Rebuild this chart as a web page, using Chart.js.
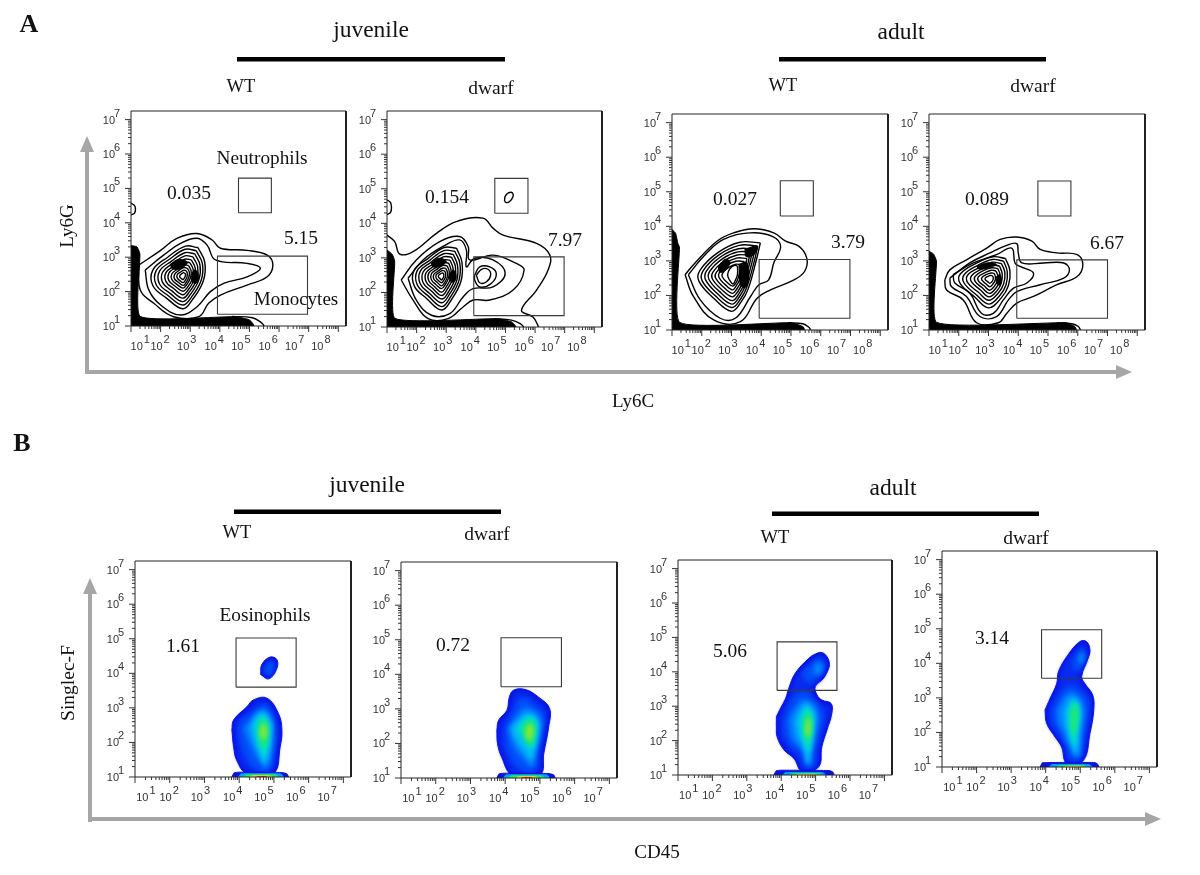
<!DOCTYPE html>
<html>
<head>
<meta charset="utf-8">
<title>Ly6G / Ly6C and Singlec-F / CD45 flow plots</title>
<script src="https://cdn.jsdelivr.net/npm/chart.js@4/dist/chart.umd.js"></script>
<style>
  html, body { margin: 0; background: #fff; }
  #page { position: relative; width: 1200px; height: 875px; overflow: hidden; filter: blur(0.3px); }
  #page canvas { position: absolute; }
  #page svg { position: absolute; left: 0; top: 0; }
  .t { position: absolute; font-family: "Liberation Serif", serif; color: #111; white-space: nowrap; transform: translate(-50%, -50%); line-height: 1; }
</style>
</head>
<body>
<div id="page"></div>
<script>
// all values below are log10 decades, as flat x,y lists
const xDecadesA = [1, 2, 3, 4, 5, 6, 7, 8];
const xDecadesB = [1, 2, 3, 4, 5, 6, 7];
const yDecades = [1, 2, 3, 4, 5, 6, 7];
const xLabelPos = [1.33, 2.0, 2.9, 3.83, 4.73, 5.65, 6.55, 7.43];

const neutGates = [[4.63, 5.74, 4.29, 5.30], [4.64, 5.76, 4.29, 5.30], [4.64, 5.75, 4.30, 5.32], [4.66, 5.77, 4.30, 5.31]];
const monoGates = [[3.92, 6.96, 1.34, 3.03], [3.93, 6.98, 1.33, 3.03], [3.93, 6.98, 1.34, 3.04], [3.95, 7.0, 1.34, 3.03]];
const eosGates = [[3.91, 5.64, 3.60, 5.02], [3.88, 5.62, 3.64, 5.06], [3.88, 5.62, 3.46, 4.87], [3.88, 5.62, 3.57, 4.97]];

// panel A contours, closed, outermost first
const a1Contours = [
  [1.26,2.77, 2.0,3.2, 2.55,3.55, 3.23,3.69, 3.74,3.5, 4.02,3.26, 4.92,3.2, 5.6,3.06, 5.79,2.77, 5.6,2.43, 4.92,2.19, 4.02,1.9, 3.62,1.66, 3.29,1.27, 2.44,1.27, 1.77,1.66, 1.32,2.03],
  [1.48,2.63, 2.1,3.06, 2.67,3.4, 3.23,3.55, 3.57,3.35, 3.85,2.92, 4.92,2.82, 5.37,2.68, 4.92,2.43, 4.13,2.24, 3.68,2.0, 3.23,1.56, 2.67,1.32, 2.0,1.61, 1.6,2.05],
  [3.26,3.28, 3.49,2.86, 3.44,2.31, 3.07,1.76, 2.75,1.50, 2.20,1.81, 1.74,2.17, 1.74,2.63, 2.24,3.00, 2.84,3.32],
  [3.20,3.19, 3.41,2.82, 3.37,2.33, 3.04,1.84, 2.75,1.61, 2.26,1.88, 1.85,2.20, 1.85,2.61, 2.30,2.94, 2.83,3.23],
  [3.15,3.10, 3.33,2.77, 3.29,2.34, 3.00,1.91, 2.75,1.71, 2.32,1.95, 1.96,2.23, 1.96,2.59, 2.36,2.88, 2.82,3.13],
  [3.09,3.01, 3.25,2.73, 3.22,2.36, 2.97,1.99, 2.75,1.81, 2.38,2.02, 2.07,2.26, 2.07,2.57, 2.41,2.82, 2.82,3.04],
  [3.04,2.92, 3.17,2.68, 3.14,2.37, 2.94,2.06, 2.75,1.91, 2.44,2.09, 2.18,2.29, 2.18,2.55, 2.47,2.76, 2.81,2.94],
  [2.99,2.84, 3.10,2.64, 3.08,2.39, 2.91,2.13, 2.76,2.01, 2.50,2.15, 2.28,2.32, 2.28,2.54, 2.52,2.71, 2.80,2.86],
  [2.94,2.76, 3.03,2.60, 3.01,2.40, 2.88,2.20, 2.76,2.10, 2.55,2.21, 2.38,2.35, 2.38,2.52, 2.57,2.65, 2.79,2.77],
  [2.90,2.68, 2.97,2.57, 2.95,2.41, 2.85,2.25, 2.76,2.18, 2.60,2.27, 2.47,2.37, 2.47,2.50, 2.61,2.61, 2.78,2.70],
  [2.86,2.61, 2.90,2.53, 2.89,2.42, 2.82,2.31, 2.76,2.26, 2.65,2.32, 2.56,2.40, 2.56,2.49, 2.66,2.56, 2.78,2.62],
  [2.81,2.54, 2.84,2.50, 2.83,2.44, 2.79,2.38, 2.76,2.35, 2.70,2.38, 2.65,2.42, 2.65,2.47, 2.70,2.51, 2.77,2.55]
];
const a2Contours = [
  [1.48,2.36, 1.99,2.94, 2.78,3.47, 3.45,3.62, 3.74,3.33, 3.79,2.94, 4.58,3.08, 5.37,2.84, 5.63,2.65, 5.26,2.07, 4.47,1.78, 3.91,1.78, 3.57,1.58, 3.06,1.24, 2.39,1.24, 1.88,1.78],
  [1.71,2.41, 2.22,2.94, 2.89,3.33, 3.45,3.52, 3.68,3.23, 3.68,2.74, 3.96,2.99, 4.58,2.94, 4.99,2.55, 4.58,2.16, 3.91,2.11, 3.57,1.87, 3.12,1.39, 2.5,1.34, 1.99,1.78],
  [3.96,2.5, 4.13,2.74, 4.47,2.74, 4.69,2.55, 4.52,2.26, 4.13,2.16, 3.96,2.36],
  [4.02,2.5, 4.19,2.67, 4.41,2.67, 4.5,2.5, 4.36,2.31, 4.13,2.28],
  [4.97,4.64, 4.99,4.78, 5.1,4.88, 5.24,4.88, 5.25,4.76, 5.14,4.63, 5.03,4.6],
  [3.35,3.28, 3.53,2.88, 3.50,2.33, 3.19,1.81, 2.85,1.49, 2.33,1.83, 1.92,2.19, 1.92,2.65, 2.38,2.98, 2.93,3.30],
  [3.29,3.19, 3.46,2.84, 3.43,2.35, 3.15,1.88, 2.85,1.59, 2.39,1.90, 2.02,2.22, 2.02,2.63, 2.43,2.92, 2.92,3.21],
  [3.24,3.10, 3.38,2.79, 3.36,2.36, 3.11,1.95, 2.85,1.70, 2.44,1.97, 2.12,2.25, 2.12,2.61, 2.48,2.87, 2.91,3.12],
  [3.18,3.02, 3.31,2.75, 3.29,2.38, 3.08,2.02, 2.85,1.81, 2.50,2.04, 2.22,2.28, 2.22,2.59, 2.53,2.81, 2.90,3.03],
  [3.13,2.93, 3.23,2.70, 3.21,2.39, 3.04,2.10, 2.85,1.91, 2.55,2.11, 2.32,2.31, 2.32,2.57, 2.58,2.76, 2.89,2.94],
  [3.08,2.85, 3.16,2.66, 3.15,2.41, 3.00,2.16, 2.84,2.01, 2.60,2.17, 2.41,2.34, 2.41,2.56, 2.63,2.71, 2.88,2.86],
  [3.03,2.77, 3.10,2.62, 3.08,2.42, 2.97,2.23, 2.84,2.11, 2.65,2.23, 2.50,2.37, 2.50,2.54, 2.67,2.66, 2.87,2.78],
  [2.98,2.70, 3.04,2.59, 3.03,2.43, 2.94,2.28, 2.84,2.19, 2.70,2.29, 2.58,2.39, 2.58,2.52, 2.71,2.61, 2.87,2.70],
  [2.94,2.63, 2.98,2.55, 2.97,2.44, 2.91,2.34, 2.84,2.28, 2.74,2.34, 2.66,2.42, 2.66,2.51, 2.75,2.57, 2.86,2.63],
  [2.90,2.56, 2.92,2.52, 2.91,2.45, 2.88,2.40, 2.84,2.36, 2.79,2.40, 2.74,2.44, 2.74,2.49, 2.79,2.53, 2.85,2.56]
];
const a3Contours = [
  [1.44,2.6, 1.72,2.89, 2.51,3.57, 3.07,3.81, 3.75,3.93, 4.42,3.81, 4.82,3.57, 5.27,3.42, 5.53,3.08, 5.46,2.7, 5.1,2.45, 4.31,2.16, 3.86,1.92, 3.3,1.24, 2.4,1.29, 1.72,1.97],
  [1.55,2.6, 2.06,3.13, 2.73,3.62, 3.64,3.81, 4.37,3.71, 4.65,3.42, 4.42,2.94, 4.25,2.45, 3.92,2.31, 3.64,1.97, 3.13,1.34, 2.62,1.34, 1.95,1.87],
  [3.97,3.52, 3.83,3.01, 3.56,2.19, 3.33,1.82, 3.00,1.54, 2.41,1.91, 1.90,2.42, 1.95,2.74, 2.54,3.24, 3.28,3.54],
  [3.88,3.43, 3.76,2.97, 3.51,2.23, 3.30,1.89, 3.01,1.65, 2.47,1.98, 2.01,2.43, 2.05,2.72, 2.59,3.18, 3.26,3.45],
  [3.79,3.34, 3.68,2.93, 3.46,2.27, 3.27,1.97, 3.01,1.75, 2.53,2.05, 2.13,2.45, 2.16,2.71, 2.64,3.12, 3.24,3.35],
  [3.70,3.25, 3.60,2.89, 3.41,2.31, 3.25,2.05, 3.02,1.85, 2.60,2.11, 2.24,2.47, 2.27,2.70, 2.69,3.06, 3.21,3.26],
  [3.61,3.16, 3.53,2.85, 3.36,2.35, 3.22,2.12, 3.02,1.96, 2.66,2.18, 2.35,2.49, 2.38,2.68, 2.74,2.99, 3.19,3.17],
  [3.52,3.07, 3.45,2.81, 3.31,2.39, 3.19,2.20, 3.03,2.06, 2.72,2.25, 2.46,2.51, 2.49,2.67, 2.79,2.93, 3.17,3.08],
  [3.43,2.98, 3.37,2.77, 3.26,2.43, 3.16,2.28, 3.03,2.16, 2.78,2.32, 2.58,2.52, 2.59,2.66, 2.84,2.87, 3.15,2.99],
  [3.34,2.89, 3.30,2.73, 3.21,2.47, 3.14,2.35, 3.04,2.27, 2.85,2.38, 2.69,2.54, 2.70,2.64, 2.89,2.80, 3.12,2.90],
  [3.2,2.85, 3.2,2.6, 3.12,2.42, 3.05,2.33, 2.93,2.45, 2.87,2.6, 2.95,2.78, 3.1,2.87]
];
const a4Contours = [
  [1.53,2.45, 1.7,2.74, 2.26,3.03, 2.94,3.37, 3.39,3.62, 3.95,3.69, 4.46,3.57, 4.74,3.33, 5.3,3.23, 5.98,3.18, 6.17,2.89, 5.98,2.55, 5.3,2.31, 4.51,1.97, 3.95,1.78, 3.61,1.48, 3.33,1.21, 2.6,1.21, 2.15,1.87, 1.59,2.16],
  [1.7,2.5, 2.37,2.94, 3.05,3.23, 3.61,3.45, 3.95,3.5, 4.0,3.23, 4.12,2.94, 4.85,2.94, 5.53,2.94, 5.72,2.74, 5.53,2.5, 4.74,2.31, 3.95,2.11, 3.67,1.87, 3.27,1.39, 2.71,1.39, 2.26,1.97, 1.75,2.26],
  [1.81,2.6, 2.49,2.94, 3.27,3.18, 3.78,3.37, 3.89,2.94, 4.06,2.84, 4.51,2.65, 4.29,2.36, 3.84,2.21, 3.5,1.87, 3.16,1.48, 2.77,1.48, 2.37,2.07, 1.87,2.36],
  [3.57,3.07, 3.72,2.72, 3.67,2.29, 3.43,1.93, 3.00,1.64, 2.53,1.96, 2.05,2.34, 2.05,2.62, 2.58,2.93, 3.15,3.12],
  [3.51,2.99, 3.63,2.69, 3.59,2.31, 3.38,2.00, 3.01,1.75, 2.59,2.02, 2.18,2.36, 2.18,2.60, 2.64,2.87, 3.13,3.04],
  [3.44,2.92, 3.55,2.66, 3.51,2.34, 3.33,2.07, 3.01,1.86, 2.66,2.09, 2.30,2.37, 2.30,2.59, 2.70,2.81, 3.12,2.96],
  [3.37,2.85, 3.46,2.63, 3.43,2.36, 3.29,2.14, 3.02,1.96, 2.73,2.16, 2.43,2.39, 2.43,2.57, 2.76,2.76, 3.11,2.88],
  [3.31,2.78, 3.39,2.60, 3.36,2.38, 3.24,2.20, 3.03,2.06, 2.79,2.22, 2.55,2.41, 2.55,2.55, 2.81,2.71, 3.10,2.80],
  [3.25,2.71, 3.31,2.57, 3.29,2.41, 3.20,2.27, 3.03,2.15, 2.85,2.28, 2.66,2.42, 2.66,2.54, 2.87,2.65, 3.09,2.73],
  [3.19,2.64, 3.23,2.55, 3.22,2.43, 3.15,2.33, 3.04,2.25, 2.91,2.34, 2.78,2.44, 2.78,2.52, 2.92,2.60, 3.08,2.65],
  [3.13,2.57, 3.16,2.52, 3.15,2.45, 3.11,2.39, 3.04,2.35, 2.97,2.40, 2.89,2.46, 2.89,2.50, 2.98,2.55, 3.07,2.58]
];
// open curves that run into the axes
const a1Open = [[1,4.57, 1.12,4.5, 1.15,4.4, 1.12,4.28, 1,4.23], [4.4,1.28, 5.1,1.24, 5.4,1.1, 5.5,1]];
const a2Open = [[1,3.66, 1.26,3.47, 1.43,3.11, 1.88,3.18, 2.67,3.71, 3.34,4.05, 4.24,4.15, 4.58,3.86, 4.92,3.66, 6.05,3.42, 6.5,3.08, 6.44,2.65, 6.05,2.07, 5.54,1.48, 5.93,1.29, 6.12,1],
  [1,4.68, 1.12,4.6, 1.15,4.45, 1.12,4.32, 1,4.25], [4.6,1.24, 5.2,1.2, 5.5,1.1, 5.62,1]];
const a3Open = [[4.9,1.21, 5.4,1.18, 5.6,1.08, 5.66,1]];
const a4Open = [[5.3,1.21, 5.8,1.18, 6.02,1.1, 6.09,1]];
// solid black piles of events along the two axes
const a1Band = [1,3.34, 1.2,3.3, 1.3,3.1, 1.31,1.28, 4.5,1.27, 5.0,1.18, 5.15,1, 1,1];
const a2Band = [1,3.23, 1.18,3.1, 1.26,2.9, 1.27,1.25, 4.7,1.24, 5.2,1.15, 5.35,1, 1,1];
const a3Band = [1,3.91, 1.12,3.8, 1.2,3.5, 1.25,3.4, 1.26,1.22, 5.0,1.21, 5.4,1.1, 5.45,1, 1,1];
const a4Band = [1,3.28, 1.15,3.2, 1.25,3.0, 1.26,1.22, 5.6,1.21, 5.9,1.1, 5.95,1, 1,1];
// places where the contour lines run together into black
const a1Dark = [[2.33,2.8, 2.6,2.93, 2.9,2.85, 2.7,2.68, 2.4,2.66], [3.06,2.55, 3.18,2.63, 3.29,2.45, 3.2,2.24, 3.06,2.3]];
const a2Dark = [[2.5,2.85, 2.75,2.99, 3.0,2.9, 2.8,2.76, 2.55,2.74], [3.12,2.55, 3.25,2.65, 3.34,2.45, 3.25,2.3, 3.12,2.35]];
const a3Dark = [[3.25,2.9, 3.5,2.95, 3.58,2.5, 3.45,2.22, 3.3,2.32], [3.45,3.34, 3.85,3.42, 3.78,3.2, 3.5,3.12], [2.55,2.85, 2.8,3.05, 2.95,2.95, 2.75,2.7, 2.6,2.68]];
const a4Dark = [[2.6,2.84, 2.95,2.94, 3.27,2.9, 3.0,2.8, 2.7,2.76], [3.27,2.55, 3.38,2.6, 3.44,2.42, 3.38,2.3, 3.27,2.36]];

// panel B density layers, low to high; the level lists pick the colour
const densityColors = ['#0a12e0', '#0a2cf0', '#0050fa', '#0088ff', '#00c0f4', '#00e2c4', '#20e870', '#90e830'];
const b1Density = [
  [3.79,2.36, 3.84,2.65, 4.22,3.03, 4.41,3.23, 4.8,3.28, 5.13,2.84, 5.23,2.36, 5.18,1.87, 4.99,1.1, 4.22,1.1, 3.93,1.48, 3.84,1.87],
  [3.87,2.36, 3.92,2.62, 4.28,2.96, 4.45,3.15, 4.78,3.2, 5.06,2.8, 5.15,2.36, 5.1,1.87, 4.93,1.15, 4.3,1.15, 4.0,1.5, 3.92,1.9],
  [4.0,2.36, 4.05,2.6, 4.35,2.85, 4.55,3.0, 4.8,3.05, 5.0,2.7, 5.05,2.3, 5.0,1.8, 4.85,1.2, 4.45,1.25, 4.2,1.6, 4.05,2.0],
  [4.15,2.4, 4.35,2.65, 4.5,2.85, 4.72,2.95, 4.95,2.6, 4.97,2.25, 4.93,1.75, 4.8,1.3, 4.6,1.45, 4.4,1.8],
  [4.35,2.45, 4.5,2.75, 4.7,2.85, 4.9,2.55, 4.9,2.2, 4.85,1.75, 4.72,1.4, 4.6,1.7, 4.45,2.05],
  [4.5,2.4, 4.58,2.68, 4.7,2.75, 4.83,2.5, 4.85,2.15, 4.78,1.8, 4.7,1.6, 4.58,1.95],
  [4.58,2.35, 4.62,2.6, 4.72,2.65, 4.8,2.45, 4.8,2.1, 4.73,1.85, 4.62,2.05],
  [4.62,2.35, 4.68,2.5, 4.76,2.45, 4.76,2.2, 4.7,2.1, 4.63,2.2],
  [4.62,3.96, 4.65,4.25, 4.89,4.47, 5.09,4.39, 5.07,4.1, 4.85,3.84],
  [4.72,4.0, 4.73,4.2, 4.9,4.35, 5.0,4.3, 5.0,4.1, 4.85,3.92]
];
const b1Levels = [0, 1, 2, 3, 4, 5, 6, 7, 0, 2];
const b2Density = [
  [3.76,2.38, 3.81,2.67, 4.05,2.96, 4.12,3.34, 4.24,3.54, 4.58,3.56, 4.96,3.34, 5.28,3.01, 5.25,2.47, 5.11,1.7, 5.01,1.1, 4.19,1.1, 3.9,1.6, 3.78,1.99],
  [3.85,2.38, 3.9,2.64, 4.13,2.9, 4.2,3.28, 4.3,3.46, 4.56,3.48, 4.9,3.26, 5.2,2.97, 5.17,2.45, 5.03,1.72, 4.94,1.15, 4.27,1.15, 3.97,1.62, 3.86,2.0],
  [4.0,2.4, 4.15,2.75, 4.3,3.05, 4.4,3.25, 4.6,3.3, 4.85,3.1, 5.1,2.85, 5.08,2.42, 4.95,1.75, 4.85,1.25, 4.4,1.3, 4.1,1.75],
  [4.1,2.45, 4.35,2.8, 4.55,3.0, 4.8,2.95, 5.02,2.72, 5.0,2.35, 4.88,1.78, 4.78,1.35, 4.55,1.55, 4.25,1.95],
  [4.2,2.45, 4.45,2.72, 4.65,2.85, 4.9,2.7, 4.95,2.4, 4.85,1.9, 4.75,1.55, 4.55,1.8, 4.3,2.15],
  [4.38,2.45, 4.55,2.68, 4.75,2.75, 4.88,2.6, 4.88,2.3, 4.78,1.85, 4.6,2.1],
  [4.5,2.45, 4.68,2.65, 4.83,2.55, 4.82,2.25, 4.72,1.95, 4.58,2.15],
  [4.62,2.42, 4.72,2.55, 4.78,2.45, 4.78,2.25, 4.7,2.1, 4.63,2.2]
];
const b2Levels = [0, 1, 2, 3, 4, 5, 6, 7];
const b3Density = [
  [3.86,2.7, 3.98,2.94, 4.13,3.23, 4.22,3.52, 4.41,3.96, 4.8,4.39, 5.0,4.52, 5.18,4.56, 5.33,4.44, 5.4,4.25, 5.38,4.1, 5.23,3.81, 4.99,3.57, 5.04,3.33, 5.18,3.18, 5.45,3.08, 5.47,2.79, 5.33,2.31, 5.18,1.82, 5.09,1.24, 4.61,1.1, 4.37,1.48, 4.08,1.73, 3.88,2.11, 3.86,2.4],
  [3.95,2.7, 4.05,2.92, 4.2,3.2, 4.3,3.5, 4.48,3.92, 4.84,4.3, 5.02,4.44, 5.15,4.47, 5.25,4.4, 5.32,4.25, 5.3,4.1, 5.15,3.8, 4.9,3.55, 4.95,3.25, 5.1,3.08, 5.38,3.0, 5.39,2.75, 5.25,2.3, 5.1,1.82, 5.0,1.2, 4.65,1.15, 4.42,1.53, 4.15,1.78, 3.97,2.1, 3.94,2.4],
  [4.1,2.65, 4.25,3.0, 4.4,3.3, 4.7,3.4, 4.9,3.25, 5.15,2.95, 5.22,2.65, 5.12,2.25, 5.0,1.75, 4.92,1.25, 4.7,1.25, 4.55,1.6, 4.25,1.9, 4.1,2.25],
  [4.6,3.95, 4.9,4.25, 5.15,4.38, 5.22,4.1, 5.05,3.85, 4.8,3.7],
  [4.95,4.05, 5.05,4.25, 5.18,4.2, 5.15,3.98, 5.02,3.92],
  [4.25,2.6, 4.42,2.95, 4.65,3.15, 4.92,3.05, 5.05,2.7, 5.0,2.25, 4.88,1.7, 4.82,1.3, 4.65,1.7, 4.35,2.05],
  [4.42,2.55, 4.58,2.9, 4.75,3.05, 4.95,2.8, 4.95,2.35, 4.85,1.85, 4.77,1.35, 4.65,1.85, 4.5,2.15],
  [4.58,2.5, 4.68,2.85, 4.8,2.9, 4.9,2.65, 4.88,2.25, 4.8,1.7, 4.68,2.0],
  [4.68,2.5, 4.75,2.8, 4.85,2.65, 4.85,2.3, 4.78,1.95, 4.7,2.15],
  [4.74,2.45, 4.8,2.65, 4.83,2.45, 4.8,2.15, 4.74,2.2]
];
const b3Levels = [0, 1, 2, 2, 3, 3, 4, 5, 6, 7];
const b4Density = [
  [3.98,2.65, 4.13,2.99, 4.32,3.42, 4.37,3.76, 4.65,4.25, 4.99,4.63, 5.18,4.63, 5.28,4.39, 5.23,4.15, 5.04,3.62, 5.13,3.42, 5.36,3.08, 5.39,2.65, 5.28,1.97, 5.09,1.19, 4.61,1.1, 4.46,1.58, 4.27,1.87, 4.03,2.26],
  [4.06,2.65, 4.2,2.97, 4.4,3.4, 4.44,3.75, 4.7,4.2, 5.0,4.52, 5.13,4.53, 5.2,4.37, 5.15,4.12, 4.96,3.62, 5.05,3.38, 5.28,3.05, 5.31,2.65, 5.2,1.97, 5.02,1.2, 4.65,1.15, 4.52,1.6, 4.33,1.9, 4.1,2.26],
  [4.2,2.65, 4.4,3.05, 4.6,3.3, 4.85,3.3, 5.2,2.95, 5.22,2.6, 5.12,1.95, 4.97,1.25, 4.72,1.25, 4.6,1.65, 4.4,2.0, 4.22,2.3],
  [4.8,4.1, 5.0,4.4, 5.12,4.35, 5.1,4.05, 4.95,3.8, 4.82,3.85],
  [4.95,4.15, 5.05,4.3, 5.1,4.2, 5.03,4.0],
  [4.35,2.65, 4.55,3.0, 4.75,3.15, 5.0,2.95, 5.1,2.6, 5.02,1.95, 4.93,1.3, 4.72,1.55, 4.5,2.05, 4.38,2.3],
  [4.55,2.6, 4.72,2.95, 4.88,2.95, 5.0,2.6, 4.95,2.05, 4.88,1.4, 4.75,1.7, 4.6,2.2],
  [4.68,2.55, 4.78,2.85, 4.9,2.85, 4.95,2.55, 4.9,2.1, 4.83,1.65, 4.72,2.05],
  [4.75,2.55, 4.83,2.8, 4.92,2.6, 4.88,2.2, 4.82,1.95, 4.75,2.2]
];
const b4Levels = [0, 1, 2, 2, 3, 3, 4, 5, 6];
// debris strip on the bottom axis
const stripColors = ['#0a12e0', '#00a4ff', '#24e860', '#f0e020', '#f03010'];
const b1Strip = [[3.79,1, 3.85,1.12, 3.98,1.14, 5.25,1.13, 5.38,1.09, 5.42,1], [3.98,1, 4.05,1.09, 5.2,1.09, 5.28,1], [4.1,1, 4.2,1.06, 5.05,1.06, 5.15,1], [4.3,1, 4.4,1.035, 4.85,1.035, 4.95,1], [4.5,1, 4.55,1.015, 4.75,1.015, 4.8,1]];
const b2Strip = [[3.76,1, 3.82,1.12, 3.95,1.14, 5.27,1.13, 5.4,1.09, 5.44,1], [3.95,1, 4.02,1.09, 5.2,1.09, 5.28,1], [4.08,1, 4.18,1.06, 5.05,1.06, 5.15,1], [4.3,1, 4.4,1.035, 4.85,1.035, 4.95,1], [4.48,1, 4.53,1.015, 4.73,1.015, 4.78,1]];
const b3Strip = [[3.79,1, 3.85,1.12, 3.98,1.14, 5.4,1.13, 5.5,1.09, 5.54,1], [4.05,1, 4.12,1.07, 5.2,1.07, 5.3,1], [4.25,1, 4.35,1.04, 5.1,1.04, 5.2,1], [4.45,1, 4.55,1.02, 4.95,1.02, 5.05,1]];
const b4Strip = [[3.84,1, 3.9,1.12, 4.02,1.13, 5.42,1.13, 5.5,1.09, 5.54,1], [4.1,1, 4.18,1.07, 5.25,1.07, 5.35,1], [4.3,1, 4.4,1.04, 5.1,1.04, 5.2,1], [4.55,1, 4.62,1.02, 5.0,1.02, 5.08,1]];

// panel frames on the page
const frames = [
  [130.7, 111, 345.5, 326], [387.3, 111, 602, 326.7], [672, 114, 887.7, 330], [929.3, 114, 1145, 330],
  [135, 560.7, 351, 776.7], [401, 561.7, 616.7, 777.3], [678.3, 560, 892.3, 775], [941.7, 551, 1157, 766.7]
];
const padL = 40, padT = 6, padR = 8, padB = 35;

function points(list) {
  const out = [];
  for (let i = 0; i < list.length; i += 2) out.push({ x: list[i], y: list[i + 1] });
  return out;
}
function closed(list) {
  return points(list.concat(list.slice(0, 2)));
}
function box(g) {
  return points([g[0], g[2], g[1], g[2], g[1], g[3], g[0], g[3], g[0], g[2]]);
}
function lineSet(data, width) {
  return { data: data, showLine: true, pointRadius: 0, borderColor: '#000', borderWidth: width, tension: 0.4, fill: false };
}
function fillSet(data, color, tension) {
  return { data: data, showLine: true, pointRadius: 0, borderColor: color, borderWidth: 1, backgroundColor: color, tension: tension, fill: 'shape' };
}
function gateSet(g) {
  return { data: box(g), showLine: true, pointRadius: 0, borderColor: '#3a3a3a', borderWidth: 1.1, tension: 0, fill: false };
}

function contourSets(contours, open, band, dark, gates) {
  const sets = [fillSet(closed(band), '#000', 0.15)];
  open.forEach(function (c) { sets.push(lineSet(points(c), 1.4)); });
  contours.forEach(function (c) { sets.push(lineSet(closed(c), 1.4)); });
  dark.forEach(function (c) { sets.push(fillSet(closed(c), '#000', 0.4)); });
  gates.forEach(function (g) { sets.push(gateSet(g)); });
  return sets;
}
function densitySets(layers, levels, strip, gate) {
  const sets = [];
  layers.forEach(function (l, i) {
    const s = fillSet(closed(l), densityColors[levels[i]], 0.4);
    s.soft = levels[i] > 0;
    sets.push(s);
  });
  strip.forEach(function (s, i) { sets.push(fillSet(closed(s), stripColors[i], 0.1)); });
  sets.push(gateSet(gate));
  return sets;
}

// blends the density layers into each other; the filter is set after the previous
// dataset because the fill of the next one is painted before any inline hook runs
const softLayers = {
  id: 'softLayers',
  beforeDatasetsDraw: function (chart) {
    chart.ctx.filter = chart.data.datasets[0].soft ? 'blur(2px)' : 'none';
  },
  afterDatasetDraw: function (chart, args) {
    const next = chart.data.datasets[args.index + 1];
    chart.ctx.filter = next && next.soft ? 'blur(2px)' : 'none';
  },
  afterDatasetsDraw: function (chart) {
    chart.ctx.filter = 'none';
  }
};

// frame, log ticks and "10 + raised exponent" labels
const flowAxes = {
  id: 'flowAxes',
  afterDraw: function (chart) {
    const c = chart.ctx, a = chart.chartArea, xs = chart.scales.x, ys = chart.scales.y;
    const o = chart.options.plugins.flowAxes;
    c.save();
    c.strokeStyle = '#222';
    c.lineWidth = 1;
    c.beginPath();
    c.rect(a.left, a.top, a.right - a.left, a.bottom - a.top);
    c.stroke();
    c.lineWidth = 2;
    c.beginPath();
    c.moveTo(a.right, a.top);
    c.lineTo(a.right, a.bottom);
    c.stroke();

    c.lineWidth = 1;
    c.strokeStyle = '#333';
    c.beginPath();
    o.xDecades.forEach(function (d) {
      const px = xs.getPixelForValue(d);
      c.moveTo(px, a.bottom);
      c.lineTo(px, a.bottom + 6);
      for (let k = 2; k < 10; k++) {
        const m = xs.getPixelForValue(d + Math.log10(k));
        if (m <= a.right) { c.moveTo(m, a.bottom); c.lineTo(m, a.bottom + 3); }
      }
    });
    yDecades.forEach(function (d) {
      const py = ys.getPixelForValue(d);
      c.moveTo(a.left, py);
      c.lineTo(a.left - 6, py);
      for (let k = 2; k < 10; k++) {
        const m = ys.getPixelForValue(d + Math.log10(k));
        if (m >= a.top) { c.moveTo(a.left, m); c.lineTo(a.left - 3, m); }
      }
    });
    c.stroke();

    c.fillStyle = '#333';
    c.font = '11px "Liberation Sans", Arial, sans-serif';
    c.textBaseline = 'alphabetic';
    o.xDecades.forEach(function (d, i) {
      const cx = xs.getPixelForValue(xLabelPos[i]);
      c.textAlign = 'right';
      c.fillText('10', cx + 2, a.bottom + 24);
      c.textAlign = 'left';
      c.fillText(String(d), cx + 3, a.bottom + 17);
    });
    yDecades.forEach(function (d) {
      const py = ys.getPixelForValue(d);
      c.textAlign = 'right';
      c.fillText('10', a.left - 16, py + 4);
      c.textAlign = 'left';
      c.fillText(String(d), a.left - 17, py - 3);
    });
    c.restore();
  }
};

function drawPanel(frame, xMax, xDecades, datasets) {
  const w = frame[2] - frame[0], h = frame[3] - frame[1];
  const canvas = document.createElement('canvas');
  canvas.width = Math.round(w + padL + padR);
  canvas.height = Math.round(h + padT + padB);
  canvas.style.left = (frame[0] - padL) + 'px';
  canvas.style.top = (frame[1] - padT) + 'px';
  document.getElementById('page').appendChild(canvas);
  // later datasets go on top
  datasets.forEach(function (d, i) { d.order = -i; });
  return new Chart(canvas.getContext('2d'), {
    type: 'scatter',
    data: { datasets: datasets },
    plugins: [softLayers, flowAxes],
    options: {
      responsive: false,
      animation: false,
      events: [],
      layout: { padding: { left: padL, top: padT, right: padR, bottom: padB } },
      plugins: { legend: { display: false }, tooltip: { enabled: false }, flowAxes: { xDecades: xDecades } },
      scales: {
        x: { type: 'linear', min: 1, max: xMax, grid: { display: false, drawTicks: false }, border: { display: false }, ticks: { display: false } },
        y: { type: 'linear', min: 1, max: 7.25, grid: { display: false, drawTicks: false }, border: { display: false }, ticks: { display: false } }
      }
    }
  });
}

drawPanel(frames[0], 8.26, xDecadesA, contourSets(a1Contours, a1Open, a1Band, a1Dark, [neutGates[0], monoGates[0]]));
drawPanel(frames[1], 8.26, xDecadesA, contourSets(a2Contours, a2Open, a2Band, a2Dark, [neutGates[1], monoGates[1]]));
drawPanel(frames[2], 8.26, xDecadesA, contourSets(a3Contours, a3Open, a3Band, a3Dark, [neutGates[2], monoGates[2]]));
drawPanel(frames[3], 8.26, xDecadesA, contourSets(a4Contours, a4Open, a4Band, a4Dark, [neutGates[3], monoGates[3]]));
drawPanel(frames[4], 7.22, xDecadesB, densitySets(b1Density, b1Levels, b1Strip, eosGates[0]));
drawPanel(frames[5], 7.22, xDecadesB, densitySets(b2Density, b2Levels, b2Strip, eosGates[1]));
drawPanel(frames[6], 7.22, xDecadesB, densitySets(b3Density, b3Levels, b3Strip, eosGates[2]));
drawPanel(frames[7], 7.22, xDecadesB, densitySets(b4Density, b4Levels, b4Strip, eosGates[3]));

// arrows and group bars
const page = document.getElementById('page');
page.insertAdjacentHTML('beforeend',
  '<svg width="1200" height="875">' +
  '<g fill="#a6a6a6">' +
  '<rect x="85" y="150" width="4" height="224"/><polygon points="87,136 80,152 94,152"/>' +
  '<rect x="85" y="370" width="1032" height="4"/><polygon points="1132,372 1116,365 1116,379"/>' +
  '<rect x="88" y="592" width="4" height="230"/><polygon points="90,578 83,594 97,594"/>' +
  '<rect x="88" y="817" width="1058" height="4"/><polygon points="1161,819 1145,812 1145,826"/>' +
  '</g><g fill="#000">' +
  '<rect x="237" y="57" width="268" height="4.5"/><rect x="779" y="57" width="267" height="4.5"/>' +
  '<rect x="234" y="509.5" width="267" height="4.5"/><rect x="772" y="511.5" width="267" height="4.5"/>' +
  '</g></svg>');

function addText(text, x, y, size, extra) {
  const d = document.createElement('div');
  d.className = 't';
  d.textContent = text;
  d.style.left = x + 'px';
  d.style.top = y + 'px';
  d.style.fontSize = size + 'px';
  if (extra) Object.assign(d.style, extra);
  page.appendChild(d);
}

addText('A', 29, 24, 26, { fontWeight: 'bold' });
addText('B', 22, 443, 26, { fontWeight: 'bold' });
addText('juvenile', 371, 30, 23.5);
addText('adult', 901, 32, 23.5);
addText('WT', 241, 86, 18.5);
addText('dwarf', 491, 88, 19.5);
addText('WT', 783, 85, 18.5);
addText('dwarf', 1033, 86, 19.5);
addText('Neutrophils', 262, 158, 19.3);
addText('0.035', 189, 193, 19.5);
addText('5.15', 301, 238, 19.5);
addText('Monocytes', 296, 298, 19);
addText('0.154', 447, 197, 19.5);
addText('7.97', 565, 240, 19.5);
addText('0.027', 735, 199, 19.5);
addText('3.79', 848, 242, 19.5);
addText('0.089', 987, 199, 19.5);
addText('6.67', 1107, 243, 19.5);
addText('Ly6G', 66, 226, 19, { transform: 'translate(-50%, -50%) rotate(-90deg)' });
addText('Ly6C', 633, 400, 19);
addText('juvenile', 367, 485, 23.5);
addText('adult', 893, 488, 23.5);
addText('WT', 237, 532, 18.5);
addText('dwarf', 487, 534, 19.5);
addText('WT', 775, 537, 18.5);
addText('dwarf', 1026, 538, 19.5);
addText('Eosinophils', 265, 615, 19.3);
addText('1.61', 183, 646, 19.5);
addText('0.72', 453, 645, 19.5);
addText('5.06', 730, 651, 19.5);
addText('3.14', 992, 638, 19.5);
addText('Singlec-F', 68, 683, 19.5, { transform: 'translate(-50%, -50%) rotate(-90deg)' });
addText('CD45', 657, 851, 19);
</script>
</body>
</html>
